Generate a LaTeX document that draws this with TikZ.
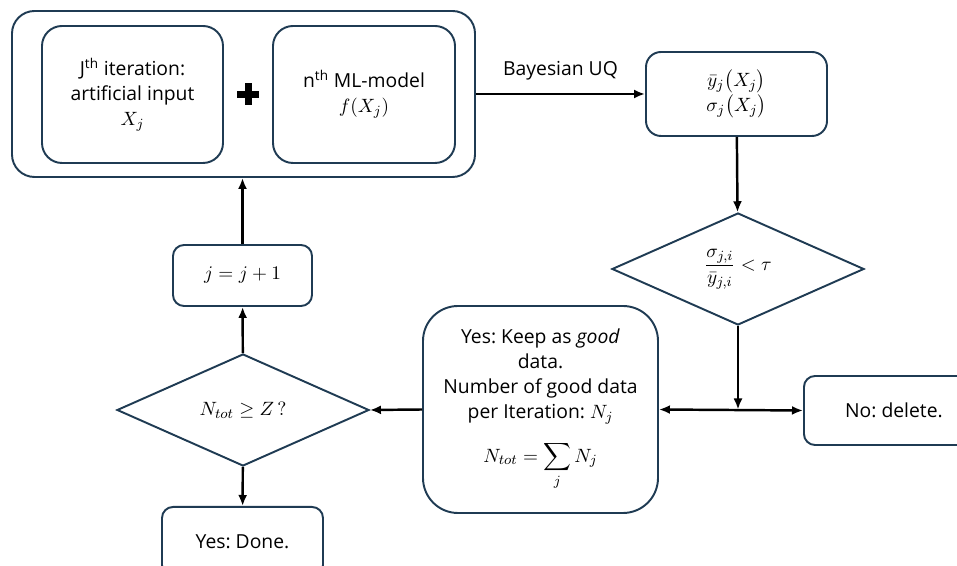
\documentclass[tikz,border=0pt]{standalone}
\usepackage{amsmath,amssymb}
\usepackage[no-math]{fontspec}
\setmainfont{Open Sans}
\usepackage{tikz}
\usetikzlibrary{positioning,arrows.meta,calc,shapes.geometric}
\usepackage{xcolor}
\definecolor{boxline}{HTML}{1F3B53}
\frenchspacing

\tikzset{
  flowbox/.style={draw=boxline,line width=1.1pt,rounded corners=#1,align=center,inner sep=2pt},
  flowbox/.default=0.22cm,
  decision/.style={draw=boxline,line width=1.1pt,diamond,inner sep=0pt,minimum width=5.04cm,minimum height=2.24cm,align=center},
  link/.style={line width=1.4pt}
}

\begin{document}
\begin{tikzpicture}[>={Latex[length=2.2mm,width=1.8mm]},font=\fontsize{11}{14.2}\selectfont]
\useasboundingbox (0,0) rectangle (19.14,11.32);
\node[flowbox=0.45cm,minimum width=9.26cm,minimum height=3.32cm] (outer) at (4.87,9.44) {};
\node[flowbox=0.4cm,minimum width=3.62cm,minimum height=2.74cm] (input) at (2.65,9.43)
  {J\textsuperscript{th} iteration:\\artificial input\\$X_j$};
\node[flowbox=0.4cm,minimum width=3.64cm,minimum height=2.74cm] (model) at (7.28,9.43)
  {n\textsuperscript{th} ML-model\\$f(X_j)$};
\fill ($(input.east)!0.5!(model.west)+(-0.22,-0.07)$) rectangle ++(0.44,0.14);
\fill ($(input.east)!0.5!(model.west)+(-0.07,-0.22)$) rectangle ++(0.14,0.44);
\node[flowbox=0.3cm,minimum width=3.62cm,minimum height=1.68cm] (stats) at (14.73,9.44)
  {$\bar{y}_j\bigl(X_j\bigr)$\\$\sigma_j\bigl(X_j\bigr)$};
\node[decision] (check) at (14.76,5.94) {$\dfrac{\sigma_{j,i}}{\bar{y}_{j,i}} < \tau$};
\node[flowbox=0.7cm,minimum width=4.7cm,minimum height=4.14cm] (good) at (10.81,3.13)
  {Yes: Keep as \textit{good}\\data.\\Number of good data\\per Iteration: $N_j$\\[9pt]
   $N_{tot} = \displaystyle\sum_j N_j$};
\node[flowbox,minimum width=3.6cm,minimum height=1.38cm,anchor=west] (delete) at (16.06,3.11) {No: delete.};
\node[decision] (enough) at (4.86,3.12) {$N_{tot} \geq Z\,?$};
\node[flowbox,minimum width=2.78cm,minimum height=1.22cm] (next) at (4.85,5.81) {$j = j + 1$};
\node[flowbox,minimum width=3.22cm,minimum height=1.38cm,anchor=north] (done) at (4.85,1.2) {Yes: Done.};
\coordinate (split) at (check.south |- good.east);
\draw[->,link] (outer.east |- stats.west) -- (stats.west) node[midway,above=4pt]{Bayesian UQ};
\draw[->,link] (stats) -- (check);
\draw[->,link] (check.south) -- (split);
\draw[<->,link] (good.east) -- (delete.west);
\draw[->,link] (good.west) -- (enough.east);
\draw[->,link] (enough) -- (next);
\draw[->,link] (next) -- (outer.south -| next.north);
\draw[->,link] (enough) -- (done);
\end{tikzpicture}
\end{document}
